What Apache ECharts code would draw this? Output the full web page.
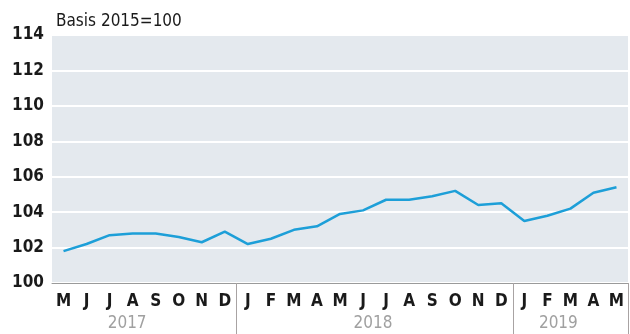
<!DOCTYPE html>
<html>
<head>
<meta charset="utf-8">
<script src="https://cdn.jsdelivr.net/npm/echarts@6/dist/echarts.min.js"></script>
<style>
  html, body { margin: 0; padding: 0; background: #fff; }
  #chart { width: 630px; height: 334px; }
</style>
</head>
<body>
<div id="chart"></div>
<script>
// Monthly index, May 2017 – May 2019 (basis 2015 = 100)
const months = ['M','J','J','A','S','O','N','D',
                'J','F','M','A','M','J','J','A','S','O','N','D',
                'J','F','M','A','M'];
const indexValues = [101.8, 102.2, 102.7, 102.8, 102.8, 102.6, 102.3, 102.9,
                     102.2, 102.5, 103.0, 103.2, 103.9, 104.1, 104.7, 104.7, 104.9, 105.2, 104.4, 104.5,
                     103.5, 103.8, 104.2, 105.1, 105.4];
// Year captions and the month index at which each is drawn
const years = ['2017', '2018', '2019'];
const yearIndex = [3, 13, 21];
// First month of each new year (separator position)
const yearStarts = [8, 20];

const FONT = "'Liberation Sans Narrow', 'DejaVu Sans Condensed', sans-serif";

const chart = echarts.init(document.getElementById('chart'), null, { renderer: 'canvas' });

chart.setOption({
  animation: false,
  backgroundColor: '#ffffff',
  title: {
    text: 'Basis 2015=100',
    left: 51, top: 8,
    textStyle: { fontFamily: FONT, fontSize: 17, fontWeight: 'normal', color: '#1a1a1a' }
  },
  grid: {
    left: 52, right: 2, top: 35, bottom: 51,
    show: true, backgroundColor: '#e4e9ee', borderWidth: 0
  },
  xAxis: [
    {
      type: 'category',
      data: months,
      boundaryGap: true,
      axisLine: { lineStyle: { color: '#9a9a9a', width: 1 } },
      axisTick: {
        show: true,
        length: 51,
        interval: (i) => yearStarts.includes(i),
        lineStyle: { color: '#a8a3a3', width: 1 }
      },
      axisLabel: {
        interval: 0, margin: 10,
        fontFamily: FONT, fontSize: 17, fontWeight: 'bold', color: '#1a1a1a'
      }
    },
    {
      type: 'category',
      data: months,
      position: 'bottom',
      offset: 22,
      axisLine: { show: false },
      axisTick: { show: false },
      axisLabel: {
        interval: 0, margin: 10,
        formatter: (v, i) => {
          const k = yearIndex.indexOf(i);
          if (k < 0) return '';
          const style = ['y0', 'y1', 'y2'][k];
          return '{' + style + '|' + years[k] + '}';
        },
        rich: {
          y0: { fontFamily: FONT, fontSize: 17, color: '#a0a0a0', padding: [0, 11, 0, 0] },
          y1: { fontFamily: FONT, fontSize: 17, color: '#a0a0a0', padding: [0, 0, 0, 20] },
          y2: { fontFamily: FONT, fontSize: 17, color: '#a0a0a0', padding: [0, 0, 0, 22] }
        }
      }
    }
  ],
  yAxis: {
    type: 'value',
    min: 100, max: 114, interval: 2,
    axisLine: { show: false },
    axisTick: { show: false },
    splitLine: { lineStyle: { color: '#ffffff', width: 2 } },
    axisLabel: {
      margin: 8,
      fontFamily: FONT, fontSize: 17, fontWeight: 'bold', color: '#1a1a1a'
    }
  },
  series: [{
    type: 'line',
    data: indexValues,
    xAxisIndex: 0,
    symbol: 'none',
    lineStyle: { color: '#1d9fd8', width: 2.5 }
  }]
});
</script>
</body>
</html>
